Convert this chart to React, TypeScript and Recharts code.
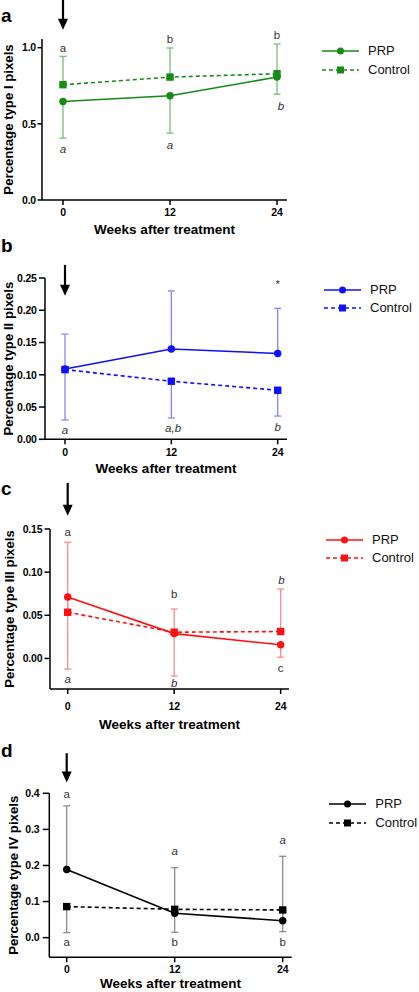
import React from 'react';
import { LineChart, Line, XAxis, YAxis, ErrorBar, ReferenceLine, ReferenceDot, Legend } from 'recharts';

const FONT = '"Liberation Sans", Arial, Helvetica, sans-serif';

// ---------- shared ----------
const weeks = [0, 12, 24];
const xTicks = [0, 12, 24];
const seriesOrder = ['prp', 'control'];
const seriesLabels = ['PRP', 'Control'];
const panelLetters = ['a', 'b', 'c', 'd'];
const xTitle = 'Weeks after treatment';
const yTitles = [
  'Percentage type I pixels',
  'Percentage type II pixels',
  'Percentage type III pixels',
  'Percentage type IV pixels',
];

// ---------- panel a : type I ----------
const typeIPrp = [0.647, 0.684, 0.807];
const typeIControl = [0.757, 0.807, 0.829];
const typeIPrpErr = [[0.241, 0], [0.245, 0], [0.112, 0]];
const typeIControlErr = [[0, 0.186], [0, 0.191], [0, 0.195]];
const typeITicks = [0, 0.5, 1.0];
const typeIArrow = [1.316, 1.118];
const typeILetters: [number, number, string, boolean][] = [
  [0, 0.969, 'a', false],
  [0, 0.311, 'a', true],
  [12, 1.031, 'b', false],
  [12, 0.338, 'a', true],
  [24, 1.059, 'b', false],
  [24.45, 0.588, 'b', true],
];

// ---------- panel b : type II ----------
const typeIIPrp = [0.109, 0.140, 0.133];
const typeIIControl = [0.108, 0.090, 0.076];
const typeIIPrpErr = [[0, 0.054], [0, 0.090], [0, 0.070]];
const typeIIControlErr = [[0.078, 0], [0.057, 0], [0.040, 0]];
const typeIITicks = [0, 0.05, 0.10, 0.15, 0.20, 0.25];
const typeIIArrow = [0.2703, 0.2224];
const typeIILetters: [number, number, string, boolean][] = [
  [0, 0.0083, 'a', true],
  [12.2, 0.0115, 'a,b', true],
  [24, 0.0135, 'b', true],
  [24, 0.235, '*', false],
];

// ---------- panel c : type III ----------
const typeIIIPrp = [0.0712, 0.0288, 0.0158];
const typeIIIControl = [0.0535, 0.0304, 0.0312];
const typeIIIPrpErr = [[0.0835, 0], [0.0492, 0], [0.0143, 0]];
const typeIIIControlErr = [[0, 0.0811], [0, 0.0269], [0, 0.0492]];
const typeIIITicks = [0, 0.05, 0.10, 0.15];
const typeIIIArrow = [0.2034, 0.1654];
const typeIIILetters: [number, number, string, boolean][] = [
  [0, 0.1423, 'a', false],
  [0, -0.0281, 'a', true],
  [12, 0.0699, 'b', false],
  [12, -0.0327, 'b', true],
  [24.1, 0.0865, 'b', true],
  [24, -0.0154, 'c', false],
];

// ---------- panel d : type IV ----------
const typeIVPrp = [0.189, 0.0674, 0.047];
const typeIVControl = [0.086, 0.0785, 0.0767];
const typeIVPrpErr = [[0, 0.176], [0, 0.1266], [0, 0.1784]];
const typeIVControlErr = [[0.0721, 0], [0.0637, 0], [0.0601, 0]];
const typeIVTicks = [0, 0.1, 0.2, 0.3, 0.4];
const typeIVArrow = [0.511, 0.4296];
const typeIVLetters: [number, number, string, boolean][] = [
  [0, 0.3864, 'a', false],
  [0, -0.022, 'a', false],
  [12, 0.229, 'a', true],
  [12, -0.022, 'b', false],
  [24, 0.2597, 'a', true],
  [24, -0.022, 'b', false],
];

// ---------- styles ----------
const colors = [
  { line: '#168a16', err: '#74c274' },
  { line: '#1010ff', err: '#8585ff' },
  { line: '#ff1010', err: '#ff8a8a' },
  { line: '#000000', err: '#8c8c8c' },
];

function buildRows(prp: number[], ctrl: number[], prpErr: number[][], ctrlErr: number[][]) {
  return weeks.map((w, i) => ({
    week: w,
    prp: prp[i],
    control: ctrl[i],
    prpErr: prpErr[i],
    controlErr: ctrlErr[i],
  }));
}

const panels = [
  {
    rows: buildRows(typeIPrp, typeIControl, typeIPrpErr, typeIControlErr),
    yTicks: typeITicks, arrow: typeIArrow, letters: typeILetters, decimals: 1,
    top: 0, height: 240, margin: { top: 39, right: 132, bottom: 0, left: 0 },
    yAxisWidth: 42, xAxisHeight: 40, xDomain: [-2.355, 25.12], yDomain: [0, 1.057],
    xTickMargin: 4, yTickMargin: 1.5, yTickSize: 4.5, yTitleX: 12.5, xTitleDy: 34, legend: { left: 322, top: 42 },
    letterTop: 6,
  },
  {
    rows: buildRows(typeIIPrp, typeIIControl, typeIIPrpErr, typeIIControlErr),
    yTicks: typeIITicks, arrow: typeIIArrow, letters: typeIILetters, decimals: 2,
    top: 240, height: 250, margin: { top: 38, right: 132, bottom: 10.7, left: 0 },
    yAxisWidth: 45, xAxisHeight: 40, xDomain: [-2.257, 25.05], yDomain: [0, 0.25],
    xTickMargin: 4.7, yTickMargin: 2.3, yTickSize: 6, yTitleX: 13, xTitleDy: 33.7, legend: { left: 324, top: 40.3 },
    letterTop: 236,
  },
  {
    rows: buildRows(typeIIIPrp, typeIIIControl, typeIIIPrpErr, typeIIIControlErr),
    yTicks: typeIIITicks, arrow: typeIIIArrow, letters: typeIIILetters, decimals: 2,
    top: 478, height: 262, margin: { top: 51, right: 130, bottom: 6, left: 0 },
    yAxisWidth: 50, xAxisHeight: 45, xDomain: [-1.994, 24.94], yDomain: [-0.0354, 0.15],
    xTickMargin: 8.7, yTickMargin: 2.2, yTickSize: 5.5, yTitleX: 14, xTitleDy: 40.3, legend: { left: 326, top: 52.3 },
    letterTop: 479,
  },
  {
    rows: buildRows(typeIVPrp, typeIVControl, typeIVPrpErr, typeIVControlErr),
    yTicks: typeIVTicks, arrow: typeIVArrow, letters: typeIVLetters, decimals: 1,
    top: 740, height: 252, margin: { top: 53.3, right: 127.3, bottom: 0, left: 0 },
    yAxisWidth: 49.3, xAxisHeight: 34.7, xDomain: [-1.933, 25.0], yDomain: [-0.0545, 0.4],
    xTickMargin: 3.7, yTickMargin: 3.5, yTickSize: 6.5, yTitleX: 18.5, xTitleDy: 31, legend: { left: 329.3, top: 55 },
    letterTop: 741,
  },
];

const makeCircleDot = (color: string) => (props: any) => {
  const { cx, cy, index } = props;
  if (cx == null || cy == null) return <g key={`ce${index}`} />;
  return <circle key={`c${index}`} cx={cx} cy={cy} r={3.7} fill={color} stroke="none" />;
};
const makeSquareDot = (color: string) => (props: any) => {
  const { cx, cy, index } = props;
  if (cx == null || cy == null) return <g key={`se${index}`} />;
  return <rect key={`s${index}`} x={cx - 3.7} y={cy - 3.7} width={7.4} height={7.4} fill={color} stroke="none" />;
};

const ArrowShape = (props: any) => {
  const { x1, y1, x2, y2 } = props;
  const top = Math.min(y1, y2);
  const tip = Math.max(y1, y2);
  const x = (x1 + x2) / 2;
  const headLen = 11;
  return (
    <g>
      <line x1={x} y1={top} x2={x} y2={tip - headLen + 1} stroke="#000" strokeWidth={2.2} />
      <polygon points={`${x - 5},${tip - headLen} ${x + 5},${tip - headLen} ${x},${tip}`} fill="#000" />
    </g>
  );
};

const makeLetterShape = (text: string, italic: boolean) => (props: any) => {
  const { cx, cy } = props;
  return (
    <text x={cx} y={cy} textAnchor="middle" fontSize={11.5} fontFamily={FONT}
      fontStyle={italic ? 'italic' : 'normal'} fill="#333">{text}</text>
  );
};

const YTitle = (props: any) => {
  const { viewBox, text, tx } = props;
  const cy = viewBox.y + viewBox.height / 2;
  return (
    <text x={tx} y={cy} transform={`rotate(-90 ${tx} ${cy})`} textAnchor="middle"
      fontSize={13.2} fontWeight="bold" fontFamily={FONT} fill="#000">{text}</text>
  );
};

const XTitle = (props: any) => {
  const { viewBox, text, ty } = props;
  const cx = viewBox.x + viewBox.width / 2;
  return (
    <text x={cx} y={viewBox.y + ty} textAnchor="middle" fontSize={13.5} fontWeight="bold"
      fontFamily={FONT} fill="#000">{text}</text>
  );
};

const makeLegend = (color: string) => (props: any) => {
  const payload = [...(props.payload || [])].sort(
    (p: any, q: any) => seriesOrder.indexOf(p.dataKey) - seriesOrder.indexOf(q.dataKey)
  );
  const lineLen = 37;
  return (
    <div style={{ fontFamily: FONT }}>
      {payload.map((entry: any, i: number) => {
        const dashed = entry.dataKey === 'control';
        return (
          <div key={i} style={{ display: 'flex', alignItems: 'center', height: 18.5, whiteSpace: 'nowrap' }}>
            <svg width={lineLen} height={10} style={{ display: 'block' }}>
              <line x1={0} y1={5} x2={lineLen} y2={5} stroke={color} strokeWidth={1.6}
                strokeDasharray={dashed ? '4 3' : undefined} />
              {dashed
                ? <rect x={lineLen / 2 - 3.5} y={1.5} width={7} height={7} fill={color} />
                : <circle cx={lineLen / 2} cy={5} r={3.5} fill={color} />}
            </svg>
            <span style={{ marginLeft: 9, fontSize: 13, color: '#111', lineHeight: '18px' }}>{entry.value}</span>
          </div>
        );
      })}
    </div>
  );
};

const Panel = ({ cfg, idx }: { cfg: any; idx: number }) => {
  const c = colors[idx];
  const tickStyle = { fill: '#000', fontSize: 10.5, fontWeight: 'bold', fontFamily: FONT, letterSpacing: -0.2 };
  const axisStroke = { stroke: '#000', strokeWidth: 1.5 };
  return (
    <div style={{ position: 'absolute', left: 0, top: cfg.top }}>
      <LineChart width={419} height={cfg.height} data={cfg.rows} margin={cfg.margin}>
        <XAxis type="number" dataKey="week" domain={cfg.xDomain} ticks={xTicks} allowDataOverflow
          interval={0} height={cfg.xAxisHeight} tickSize={5} tickMargin={cfg.xTickMargin}
          tick={tickStyle} tickLine={axisStroke} axisLine={axisStroke}
          label={<XTitle text={xTitle} ty={cfg.xTitleDy} />} />
        <YAxis type="number" domain={cfg.yDomain} ticks={cfg.yTicks} allowDataOverflow interval={0}
          width={cfg.yAxisWidth} tickSize={cfg.yTickSize} tickMargin={cfg.yTickMargin}
          tickFormatter={(v: number) => v.toFixed(cfg.decimals)}
          tick={tickStyle} tickLine={axisStroke} axisLine={axisStroke}
          label={<YTitle text={yTitles[idx]} tx={cfg.yTitleX} />} />
        <ReferenceLine segment={[{ x: 0, y: cfg.arrow[0] }, { x: 0, y: cfg.arrow[1] }]}
          ifOverflow="visible" shape={ArrowShape} />
        <Line type="linear" dataKey="prp" name={seriesLabels[0]} stroke={c.line} strokeWidth={1.6}
          dot={makeCircleDot(c.line)} activeDot={false} isAnimationActive={false}>
          <ErrorBar dataKey="prpErr" width={3.5} stroke={c.err} strokeWidth={1.3} direction="y"
            isAnimationActive={false} />
        </Line>
        <Line type="linear" dataKey="control" name={seriesLabels[1]} stroke={c.line} strokeWidth={1.6}
          strokeDasharray="4 3" dot={makeSquareDot(c.line)} activeDot={false} isAnimationActive={false}>
          <ErrorBar dataKey="controlErr" width={3.5} stroke={c.err} strokeWidth={1.3} direction="y"
            isAnimationActive={false} />
        </Line>
        {cfg.letters.map((l: [number, number, string, boolean], i: number) => (
          <ReferenceDot key={`l${i}`} x={l[0]} y={l[1]} r={0} ifOverflow="visible"
            shape={makeLetterShape(l[2], l[3])} />
        ))}
        <Legend layout="horizontal" verticalAlign="middle" align="center"
          wrapperStyle={{ left: cfg.legend.left, top: cfg.legend.top, width: 'auto', height: 'auto' }}
          content={makeLegend(c.line)} />
      </LineChart>
    </div>
  );
};

export default function App() {
  return (
    <div style={{ position: 'absolute', left: 0, top: 0, width: 419, height: 992, background: '#fff', fontFamily: FONT }}>
      {panels.map((p, i) => <Panel key={i} cfg={p} idx={i} />)}
      {panels.map((p, i) => (
        <div key={`pl${i}`} style={{ position: 'absolute', left: 1, top: p.letterTop, fontSize: 19,
          lineHeight: '19px', fontWeight: 'bold', fontFamily: FONT, color: '#000' }}>{panelLetters[i]}</div>
      ))}
    </div>
  );
}
